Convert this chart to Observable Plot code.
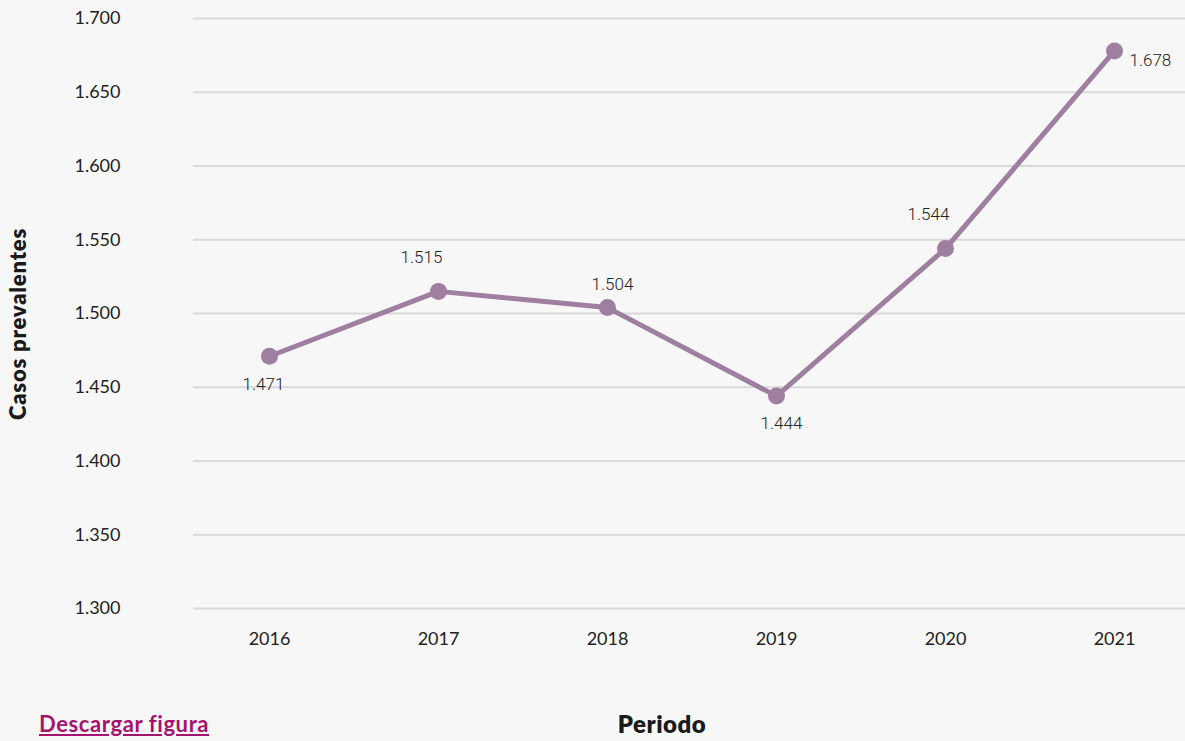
<!DOCTYPE html>
<html>
<head>
<meta charset="utf-8">
<script src="https://cdn.jsdelivr.net/npm/d3@7"></script>
<script src="https://cdn.jsdelivr.net/npm/@observablehq/plot@0.6"></script>
<style>
  html, body { margin: 0; padding: 0; background: #f7f7f7; }
  #wrap { position: relative; width: 1185px; height: 741px; overflow: hidden; background: #f7f7f7; }
  #footer { position: absolute; left: 0; top: 708px; width: 1185px; height: 33px; }
  #footer a { position: absolute; left: 39px; top: 2px; font-family: Lato, sans-serif; font-weight: 700; font-size: 22px; letter-spacing: 0.6px; color: #a3146e; text-decoration: underline; }
  #footer .xlabel { position: absolute; left: 662px; top: 1px; transform: translateX(-50%); font-family: Lato, sans-serif; font-weight: 800; font-size: 24px; letter-spacing: 0.5px; color: #1a1a1a; }
</style>
</head>
<body>
<div id="wrap">
  <div id="chart"></div>
  <div id="footer"><a href="#">Descargar figura</a><span class="xlabel">Periodo</span></div>
</div>
<script>
const years = ["2016", "2017", "2018", "2019", "2020", "2021"];
const cases = [1471, 1515, 1504, 1444, 1544, 1678];
const yTicks = [1300, 1350, 1400, 1450, 1500, 1550, 1600, 1650, 1700];
const labelPlacement = ["below-left", "above-left", "above", "below", "above-left", "right"];

const data = years.map((y, i) => ({year: y, value: cases[i], place: labelPlacement[i]}));
const es = d3.formatLocale({decimal: ",", thousands: ".", grouping: [3], currency: ["$", ""]});
const fmt = es.format(",d");

const lineColor = "#9f7f9f";
const labelFont = "Roboto, sans-serif";

function labels(place, dx, dy, anchor) {
  return Plot.text(data.filter(d => d.place === place), {
    x: "year", y: "value", text: d => fmt(d.value),
    dx, dy, textAnchor: anchor, fontSize: 17, fontWeight: 300, fill: "#222", fontFamily: labelFont
  });
}

const chart = Plot.plot({
  width: 1185,
  height: 708,
  marginLeft: 193,
  marginRight: 0,
  marginTop: 18,
  marginBottom: 100,
  style: {background: "#f7f7f7", fontFamily: "Lato, sans-serif", fontSize: "18px", color: "#222"},
  x: {type: "point", domain: years, padding: 0, insetLeft: 75, insetRight: 70, label: null},
  y: {domain: [1300, 1700], ticks: yTicks, label: null},
  marks: [
    Plot.gridY(yTicks, {stroke: "#d9d9d9", strokeWidth: 2, strokeOpacity: 1}),
    Plot.axisY({ticks: yTicks, tickSize: 0, tickPadding: 73, tickFormat: fmt, fontSize: 18, label: null}),
    Plot.axisX({tickSize: 0, tickPadding: 24, fontSize: 18, label: null}),
    Plot.line(data, {x: "year", y: "value", stroke: lineColor, strokeWidth: 5}),
    Plot.dot(data, {x: "year", y: "value", r: 8.5, fill: lineColor, stroke: "none"}),
    labels("below-left", -6, 28, "middle"),
    labels("above-left", -17, -34, "middle"),
    labels("above", 5, -23, "middle"),
    labels("below", 5, 27, "middle"),
    labels("right", 15, 10, "start")
  ]
});

// y axis title
const svg = d3.select(chart);
svg.append("text")
  .attr("transform", "translate(20,324) rotate(-90)")
  .attr("text-anchor", "middle")
  .attr("dominant-baseline", "middle")
  .attr("font-family", "Lato, sans-serif")
  .attr("font-weight", 800)
  .attr("font-size", 22)
  .attr("letter-spacing", "0.8px")
  .attr("fill", "#1a1a1a")
  .text("Casos prevalentes");

document.getElementById("chart").appendChild(chart);
</script>
</body>
</html>
